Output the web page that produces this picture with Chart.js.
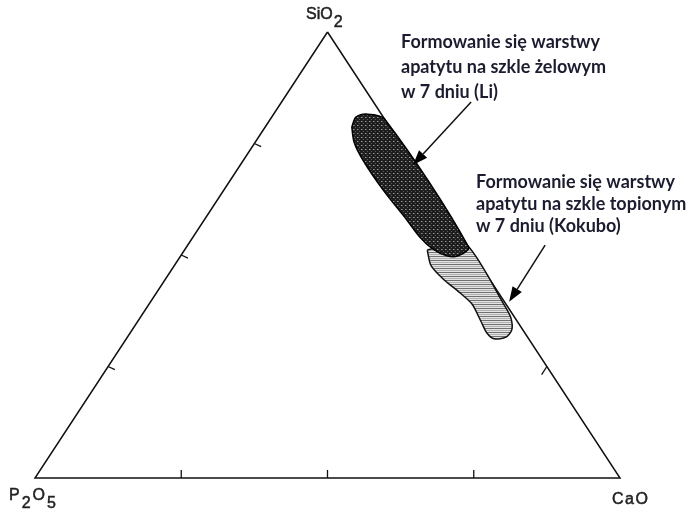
<!DOCTYPE html>
<html>
<head>
<meta charset="utf-8">
<script src="https://cdn.jsdelivr.net/npm/chart.js@4.4.1/dist/chart.umd.min.js"></script>
<style>
  html, body { margin: 0; padding: 0; background: #fff; }
  #wrap { width: 697px; height: 512px; position: relative; }
</style>
</head>
<body>
<div id="wrap"><canvas id="ternary"></canvas></div>
<script>
// ternary diagram SiO2 - CaO - P2O5, compositions in mol% (P2O5 = 100 - SiO2 - CaO)
const cornerSiO2 = [100, 0, 0];
const cornerCaO = [0, 0, 100];
const tickPercents = [25, 50, 75];

// apatite layer on gel glass after 7 days (Li)
const liSiO2 = [78.7, 80.9, 81.6, 80.5, 51.8, 49.8, 49.8, 51.3, 54.0, 57.8, 64.6, 71.3, 75.3];
const liCaO  = [14.8, 14.4, 15.8, 19.5, 48.2, 47.4, 45.5, 42.4, 38.8, 34.7, 27.2, 20.4, 16.9];

// apatite layer on melted glass after 7 days (Kokubo)
const kokuboSiO2 = [51.1, 52.0, 52.0, 38.6, 35.9, 33.2, 31.6, 31.2, 32.5, 35.2, 39.0, 42.0, 44.5, 47.6];
const kokuboCaO  = [41.5, 44.1, 48.0, 61.0, 63.4, 64.9, 64.7, 62.9, 61.0, 58.6, 55.2, 51.2, 47.6, 43.9];

const noteLi = ['Formowanie się warstwy', 'apatytu na szkle żelowym', 'w 7 dniu (Li)'];
const noteKokubo = ['Formowanie się warstwy', 'apatytu na szkle topionym', 'w 7 dniu (Kokubo)'];

// arrows: [SiO2, CaO] of tail and tip
const arrowLi = [[84.3, 32.4], [70.2, 29.5]];
const arrowKokubo = [[52.2, 61.1], [39.5, 61.3]];

const toXY = (s, c) => ({ x: c + s / 2, y: s });

function outline(sArr, cArr) {
    const pts = sArr.map((s, i) => toXY(s, cArr[i]));
    pts.push(pts[0]);
    return pts;
}

function makePattern(bg, draw) {
    const c = document.createElement('canvas');
    c.width = 4; c.height = 4;
    const g = c.getContext('2d');
    g.fillStyle = bg;
    g.fillRect(0, 0, 4, 4);
    draw(g);
    return g.createPattern(c, 'repeat');
}

const dotted = makePattern('#1e1e1e', g => {
    g.fillStyle = '#9a9a9a';
    g.fillRect(1, 1, 1, 1);
    g.fillStyle = '#5a5a5a';
    g.fillRect(3, 3, 1, 1);
    g.fillRect(2, 1, 1, 1);
});
const hatched = makePattern('#e4e4e4', g => {
    g.fillStyle = '#707070';
    g.fillRect(0, 0, 4, 1);
    g.fillStyle = '#b0b0b0';
    g.fillRect(0, 2, 4, 1);
});

// tick marks on the three sides
const tickSegs = [];
tickPercents.forEach(p => {
    tickSegs.push([toXY(0, p), toXY(1.8, p - 0.9)]);          // base, pointing up
    tickSegs.push([toXY(p, 0), toXY(p - 0.7, 1.5)]);          // left side
    tickSegs.push([toXY(p, 100 - p), toXY(p - 1.8, 100 - p)]); // right side
});

const datasets = [];
datasets.push({
    data: outline(liSiO2, liCaO),
    showLine: true, fill: 'shape', tension: 0.3,
    backgroundColor: dotted, borderColor: '#000', borderWidth: 1.5,
    pointRadius: 0, order: 1
});
datasets.push({
    data: outline(kokuboSiO2, kokuboCaO),
    showLine: true, fill: 'shape', tension: 0.25,
    backgroundColor: hatched, borderColor: '#111', borderWidth: 1.5,
    pointRadius: 0, order: 2
});
datasets.push({
    data: outline(cornerSiO2, cornerCaO),
    showLine: true, fill: false, tension: 0,
    borderColor: '#111', borderWidth: 1.5,
    pointRadius: 0, order: 3
});
tickSegs.forEach(seg => datasets.push({
    data: seg, showLine: true, fill: false,
    borderColor: '#111', borderWidth: 1.3, pointRadius: 0, order: 4
}));

function subLabel(ctx, parts, x, y, gap) {
    // parts: [text, isSub]
    let cx = x;
    ctx.font = '16px "Liberation Sans"';
    ctx.lineWidth = 0.5;
    ctx.strokeStyle = '#222';
    parts.forEach(([t, sub]) => {
        const yy = sub ? y + 8 : y;
        ctx.fillText(t, cx, yy);
        ctx.strokeText(t, cx, yy);
        cx += ctx.measureText(t).width + gap;
    });
}

const annotations = {
    id: 'annotations',
    afterDatasetsDraw(chart) {
        const ctx = chart.ctx;
        const xs = chart.scales.x, ys = chart.scales.y;
        const at = (s, c) => {
            const p = toXY(s, c);
            return [xs.getPixelForValue(p.x), ys.getPixelForValue(p.y)];
        };
        ctx.save();

        // corner labels
        ctx.fillStyle = '#222';
        ctx.textBaseline = 'middle';
        subLabel(ctx, [['SiO', false], ['2', true]], 306, 15, 1);
        subLabel(ctx, [['P', false], ['2', true], ['O', false], ['5', true]], 9, 496, 2);
        subLabel(ctx, [['C', false], ['a', false], ['O', false]], 612, 500, 1.5);

        // notes
        ctx.fillStyle = '#1c1c30';
        ctx.font = 'bold 18px Lato';
        noteLi.forEach((t, i) => ctx.fillText(t, 401, 42 + i * 25));
        noteKokubo.forEach((t, i) => ctx.fillText(t, 476, 182 + i * 22));

        // arrows
        [arrowLi, arrowKokubo].forEach(([tail, tip]) => {
            const [x0, y0] = at(tail[0], tail[1]);
            const [x1, y1] = at(tip[0], tip[1]);
            const a = Math.atan2(y1 - y0, x1 - x0);
            const len = 15, half = 5.5;
            const bx = x1 - len * Math.cos(a), by = y1 - len * Math.sin(a);
            ctx.strokeStyle = '#111';
            ctx.lineWidth = 1.5;
            ctx.beginPath();
            ctx.moveTo(x0, y0);
            ctx.lineTo(bx, by);
            ctx.stroke();
            ctx.fillStyle = '#000';
            ctx.beginPath();
            ctx.moveTo(x1, y1);
            ctx.lineTo(bx + half * Math.sin(a), by - half * Math.cos(a));
            ctx.lineTo(bx - half * Math.sin(a), by + half * Math.cos(a));
            ctx.closePath();
            ctx.fill();
        });
        ctx.restore();
    }
};

new Chart(document.getElementById('ternary'), {
    type: 'scatter',
    data: { datasets },
    options: {
        responsive: true,
        maintainAspectRatio: false,
        animation: false,
        layout: { padding: 0 },
        plugins: { legend: { display: false }, tooltip: { enabled: false } },
        scales: {
            x: { type: 'linear', min: -5.98, max: 113.16, display: false },
            y: { type: 'linear', min: -7.62, max: 107.17, display: false }
        }
    },
    plugins: [annotations]
});
</script>
</body>
</html>
